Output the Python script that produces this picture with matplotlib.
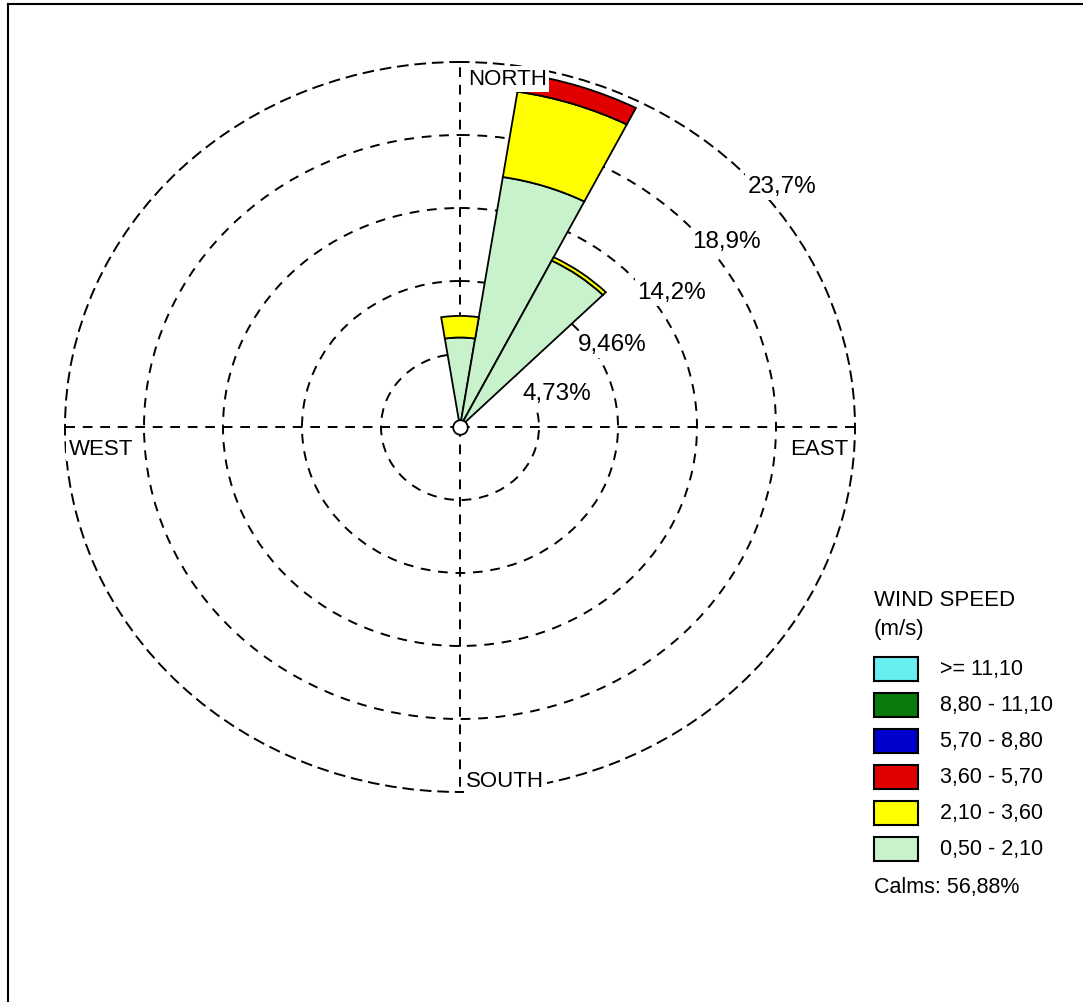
"""
Rosa de vientos: frecuencia por dirección y clase de velocidad
"""
import numpy as np
import matplotlib
matplotlib.use('Agg')
import matplotlib.pyplot as plt
from matplotlib.patches import Rectangle
from matplotlib.lines import Line2D

plt.rcParams['font.family'] = ['Liberation Sans', 'DejaVu Sans']

# Direcciones (grados desde el norte) y ancho de cada sector
direcciones = [0, 18, 36]
ancho_sector = 18

# Frecuencia (%) por clase de velocidad, de la más baja a la más alta
clases = ['0,50 - 2,10', '2,10 - 3,60', '3,60 - 5,70', '5,70 - 8,80', '8,80 - 11,10', '>= 11,10']
colores = ['#c8f2cc', '#ffff00', '#e00000', '#0000cc', '#0a7a0a', '#66eef0']
v_050_210 = [5.8, 16.4, 12.1]
v_210_360 = [1.4, 5.6, 0.25]
v_360_570 = [0.0, 1.2, 0.0]
v_570_880 = [0.0, 0.0, 0.0]
v_880_1110 = [0.0, 0.0, 0.0]
v_1110 = [0.0, 0.0, 0.0]
calmas = 56.88

# Anillos de referencia
anillos = [4.73, 9.46, 14.19, 18.92, 23.65]
etiquetas_anillos = ['4,73%', '9,46%', '14,2%', '18,9%', '23,7%']
pos_etiquetas = [(69, 6.2), (59.6, 10.6), (55.4, 15.4), (53, 20.0), (51, 24.8)]

W, H = 1083, 1003
fig = plt.figure(figsize=(W / 100, H / 100), dpi=100)
ax = fig.add_axes([65 / W, 1 - 793 / H, 790 / W, 730 / H], projection='polar')
ax.set_aspect('auto')
ax.set_theta_zero_location('N')
ax.set_theta_direction(-1)
ax.set_ylim(0, anillos[-1])

guion = (0, (5, 4))
ax.set_rgrids(anillos[:-1], labels=[''] * 4)
ax.set_thetagrids([0, 90, 180, 270], labels=[''] * 4)
ax.grid(True, color='black', linestyle=guion, linewidth=1.4)
ax.spines['polar'].set_linestyle(guion)
ax.spines['polar'].set_linewidth(1.4)
ax.set_axisbelow(True)
ax.tick_params(length=0)

# Sectores apilados
theta = np.deg2rad(direcciones)
ancho = np.deg2rad(ancho_sector)
series = [v_050_210, v_210_360, v_360_570, v_570_880, v_880_1110, v_1110]
base = np.zeros(len(direcciones))
for valores, color in zip(series, colores):
    valores = np.array(valores)
    mask = valores > 0
    if mask.any():
        ax.bar(theta[mask], valores[mask], width=ancho, bottom=base[mask],
               color=color, edgecolor='black', linewidth=1.3, zorder=3)
    base = base + valores

# Círculo de calmas
ax.plot([0], [0], 'o', ms=10.5, mfc='white', mec='black', mew=1.3, zorder=6, clip_on=False)

caja = dict(facecolor='white', edgecolor='none', pad=2)
for (ang, r), txt in zip(pos_etiquetas, etiquetas_anillos):
    ax.text(np.deg2rad(ang), r, txt, fontsize=17.5, ha='center', va='center',
            bbox=caja, zorder=5)

ax.text(0.510, 0.977, 'NORTH', transform=ax.transAxes, fontsize=16, ha='left', va='center', bbox=caja, zorder=7)
ax.text(0.508, 0.016, 'SOUTH', transform=ax.transAxes, fontsize=16, ha='left', va='center', bbox=caja, zorder=7)
ax.text(0.005, 0.471, 'WEST', transform=ax.transAxes, fontsize=16, ha='left', va='center', bbox=caja, zorder=7)
ax.text(0.991, 0.471, 'EAST', transform=ax.transAxes, fontsize=16, ha='right', va='center', bbox=caja, zorder=7)

# Leyenda de velocidades
fig.text(874 / W, 1 - 600 / H, 'WIND SPEED', fontsize=16, ha='left', va='center')
fig.text(874 / W, 1 - 629 / H, '(m/s)', fontsize=16, ha='left', va='center')
for i, (clase, color) in enumerate(zip(clases[::-1], colores[::-1])):
    yc = 670 + i * 36
    fig.add_artist(Rectangle((874 / W, 1 - (yc + 12) / H), 44 / W, 24 / H,
                             facecolor=color, edgecolor='black', linewidth=1.5,
                             transform=fig.transFigure))
    fig.text(940 / W, 1 - yc / H, clase, fontsize=15.5, ha='left', va='center')
fig.text(874 / W, 1 - 888 / H, 'Calms: ' + f'{calmas:.2f}'.replace('.', ',') + '%',
         fontsize=15.5, ha='left', va='center')

# Marco
fig.add_artist(Line2D([8 / W, 1], [1 - 5 / H, 1 - 5 / H], color='black', lw=1.5, transform=fig.transFigure))
fig.add_artist(Line2D([8 / W, 8 / W], [1 - 5 / H, 0], color='black', lw=1.5, transform=fig.transFigure))

fig.savefig('out.png', dpi=100)
